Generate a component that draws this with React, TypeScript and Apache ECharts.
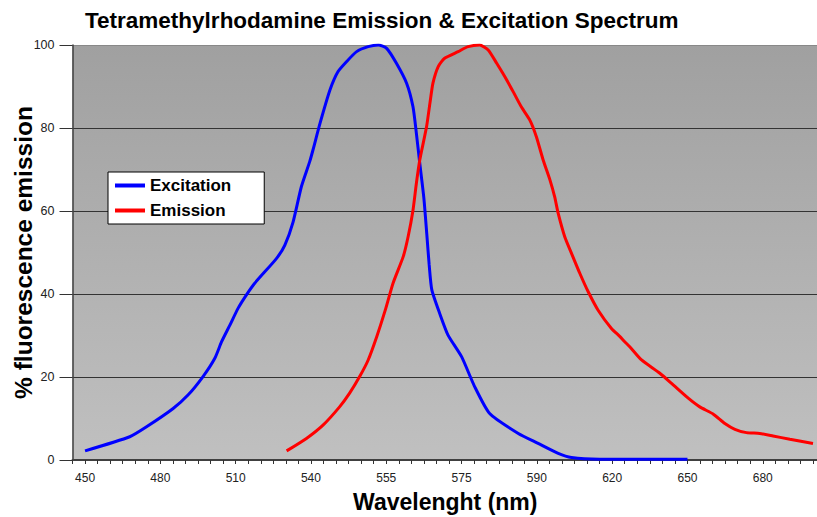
import React, { useEffect, useRef } from "react";
import * as echarts from "echarts";

// Tick labels of the (non-uniform, Excel category-style) wavelength axis
const tickWavelengths = [450, 480, 510, 540, 555, 575, 590, 620, 650, 680];
const yTicks = [0, 20, 40, 60, 80, 100];

// Excitation spectrum (nm, %)
const excitationWl = [
  450, 467.8, 474.5, 485.1, 491.1, 497.0, 501.7, 504.4, 507.7, 511.0, 514.3, 517.6,
  526.3, 529.6, 532.9, 536.2, 539.5, 540.4, 541.8, 543.8, 545.4, 547.1, 549.1, 551.4,
  553.4, 555.1, 557.7, 560.4, 562.1, 563.0, 563.9, 565.0, 565.8, 566.4, 567.1, 569.2,
  571.4, 575.0, 577.6, 580.6, 586.3, 590.5, 598.5, 603.8, 615, 650,
];
const excitationVal = [
  2.2, 5.6, 8.0, 12.4, 15.7, 20.1, 24.5, 28.5, 32.5, 36.6, 39.8, 42.6,
  48.6, 51.8, 57.4, 65.9, 71.9, 74.7, 81.1, 89.2, 93.6, 96.0, 98.4, 99.6,
  100, 99.2, 95.6, 90.8, 85.1, 78.7, 71.5, 63.0, 54.0, 47.0, 41.0, 35.3,
  30.1, 24.9, 17.7, 11.2, 6.4, 4.0, 1.6, 0.6, 0.2, 0.2,
];

// Emission spectrum (nm, %)
const emissionWl = [
  530.3, 538.2, 542.4, 545.7, 547.7, 549.7, 551.4, 553.1, 554.8, 556.8, 559.5, 560.8,
  562.1, 563.0, 563.9, 565.7, 566.6, 567.4, 568.8, 570.5, 574.1, 576.3, 578.6, 580.3,
  582.0, 583.6, 585.3, 586.9, 588.6, 589.9, 592.5, 595.2, 597.1, 598.5, 601.1, 603.8,
  607.1, 610.4, 614.4, 619.7, 623.0, 625.0, 627.0, 631.7, 639.0, 644.3, 650.3, 654.9,
  660.2, 664.9, 668.9, 673.5, 678.8, 684.1, 690.8, 700.0,
];
const emissionVal = [
  2.2, 5.2, 8.4, 12.8, 16.1, 20.1, 24.1, 29.7, 36.1, 42.6, 49.0, 53.8,
  60.2, 66.7, 72.3, 80.3, 86.0, 90.8, 94.8, 96.8, 98.4, 99.6, 100, 98.8,
  95.6, 92.4, 88.7, 85.1, 81.9, 77.9, 72.3, 67.5, 63.4, 59.4, 53.8, 49.8,
  45.0, 40.6, 36.1, 31.7, 29.8, 28.5, 27.3, 24.1, 20.9, 18.1, 14.9, 12.8,
  11.1, 8.8, 7.4, 6.6, 6.4, 5.8, 5.0, 4.0,
];

// axis position: one unit per category slot, a label every 6 slots, first label at slot 1
const SLOTS_PER_LABEL = 6;
const FIRST_LABEL_SLOT = 1;
function wlToPos(wl: number): number {
  const anchors = [...tickWavelengths, tickWavelengths[tickWavelengths.length - 1] + 30];
  let k = 0;
  while (k < anchors.length - 2 && wl > anchors[k + 1]) k++;
  const frac = (wl - anchors[k]) / (anchors[k + 1] - anchors[k]);
  return FIRST_LABEL_SLOT + (k + frac) * SLOTS_PER_LABEL;
}

const FONT = "Liberation Sans";

export default function App() {
  const ref = useRef<HTMLDivElement>(null);
  useEffect(() => {
    if (!ref.current) return;
    const chart = echarts.init(ref.current, undefined, { renderer: "svg" });
    const exData = excitationWl.map((w, i) => [wlToPos(w), excitationVal[i]]);
    const emData = emissionWl.map((w, i) => [wlToPos(w), emissionVal[i]]);
    chart.setOption({
      animation: false,
      backgroundColor: "#ffffff",
      title: {
        text: "Tetramethylrhodamine Emission & Excitation Spectrum",
        left: 85,
        top: 9,
        padding: 0,
        textStyle: { fontFamily: FONT, fontSize: 22.5, fontWeight: "bold", color: "#000" },
      },
      legend: {
        orient: "vertical",
        left: 108,
        top: 172,
        data: ["Excitation", "Emission"],
        icon: "rect",
        itemWidth: 30,
        itemHeight: 4,
        itemGap: 8,
        backgroundColor: "#ffffff",
        borderColor: "#000000",
        borderWidth: 1,
        borderRadius: 0,
        padding: [5, 33, 5, 7],
        textStyle: { fontFamily: FONT, fontSize: 17, fontWeight: "bold", color: "#000" },
      },
      grid: {
        left: 72.5,
        top: 45,
        height: 415,
        width: 745.5,
        containLabel: false,
        outerBoundsMode: "none",
        show: true,
        borderWidth: 0,
        backgroundColor: new echarts.graphic.LinearGradient(0, 0, 0, 1, [
          { offset: 0, color: "#a0a0a0" },
          { offset: 1, color: "#c0c0c0" },
        ]),
      },
      xAxis: {
        type: "value",
        min: 0,
        max: 59.4,
        interval: 1,
        name: "Wavelenght (nm)",
        nameLocation: "middle",
        nameGap: 30,
        nameMoveOverlap: false,
        nameTextStyle: { fontFamily: FONT, fontSize: 23, fontWeight: "bold", color: "#000" },
        axisLine: { show: true, lineStyle: { color: "#404040", width: 2 } },
        axisTick: { show: true, length: 4, lineStyle: { color: "#333", width: 1 } },
        axisLabel: {
          margin: 12,
          fontFamily: FONT,
          fontSize: 12,
          color: "#222",
          showMinLabel: true,
          showMaxLabel: true,
          formatter: (v: number) => {
            const r = Math.round(v);
            if (Math.abs(v - r) > 1e-6) return "";
            const idx = (r - FIRST_LABEL_SLOT) / SLOTS_PER_LABEL;
            if (r < FIRST_LABEL_SLOT || idx !== Math.floor(idx) || idx >= tickWavelengths.length) return "";
            return String(tickWavelengths[idx]);
          },
        },
        splitLine: { show: false },
      },
      yAxis: {
        type: "value",
        min: yTicks[0],
        max: yTicks[yTicks.length - 1],
        interval: 20,
        name: "% fluorescence emission",
        nameLocation: "middle",
        nameGap: 37,
        nameMoveOverlap: false,
        nameTextStyle: { fontFamily: FONT, fontSize: 24.5, fontWeight: "bold", color: "#000" },
        axisLine: { show: true, lineStyle: { color: "#404040", width: 1.5 } },
        axisTick: { show: true, length: 13, lineStyle: { color: "#333", width: 1 } },
        axisLabel: { margin: 18, fontFamily: FONT, fontSize: 12.5, color: "#222" },
        splitLine: {
          show: true,
          lineStyle: { color: ["#404040", "#333", "#333", "#333", "#333", "#888"], width: 1 },
        },
      },
      series: [
        {
          name: "Excitation",
          type: "line",
          data: exData,
          showSymbol: false,
          smooth: 0.2,
          color: "#0000ff",
          lineStyle: { color: "#0000ff", width: 3 },
        },
        {
          name: "Emission",
          type: "line",
          data: emData,
          showSymbol: false,
          smooth: 0.2,
          color: "#ff0000",
          lineStyle: { color: "#ff0000", width: 3 },
        },
      ],
    });
    return () => chart.dispose();
  }, []);
  return (
    <div
      ref={ref}
      style={{ position: "fixed", left: 0, top: 0, width: 817, height: 517 }}
    />
  );
}
